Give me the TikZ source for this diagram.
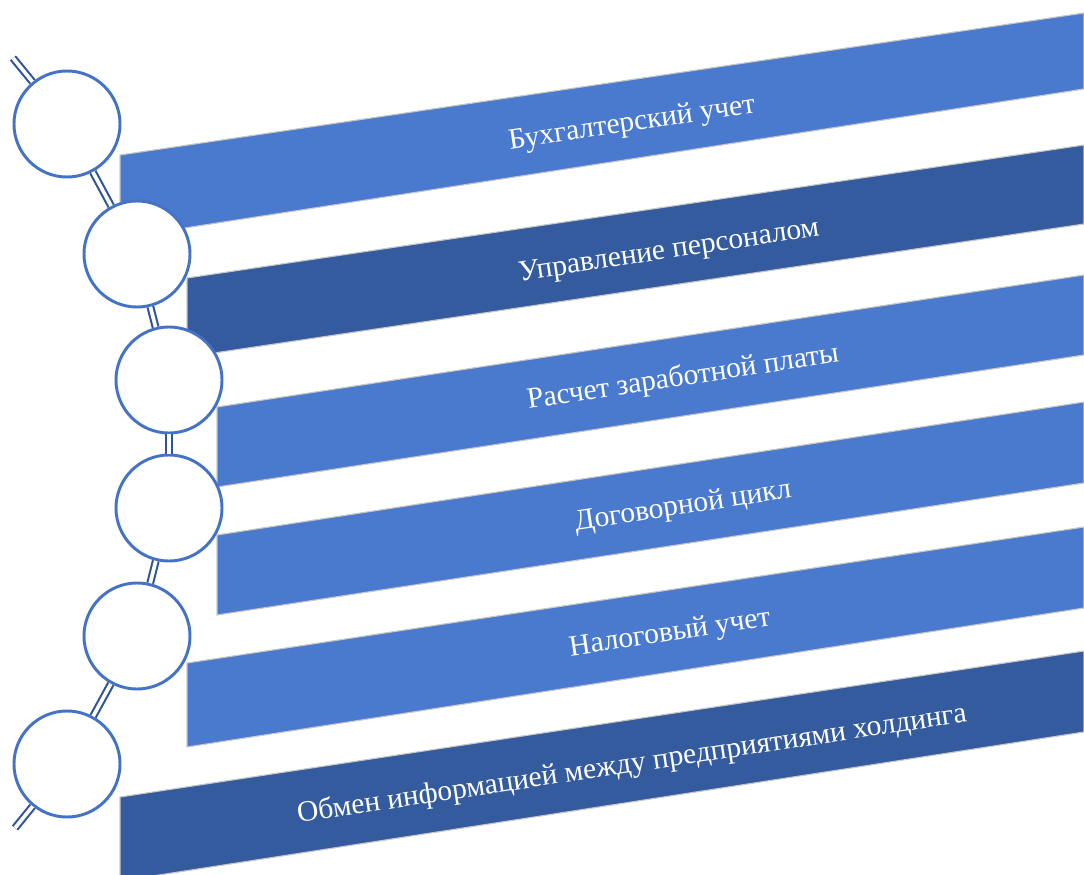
\documentclass[tikz,border=0pt]{standalone}
\usepackage{fontspec}
\setmainfont{Liberation Serif}

\definecolor{bandlight}{RGB}{74,122,205}
\definecolor{banddark}{RGB}{51,91,158}
\definecolor{ringblue}{RGB}{68,114,196}
\definecolor{linkblue}{RGB}{47,85,151}

\begin{document}
\begin{tikzpicture}[x=0.025cm,y=-0.025cm]

\tikzstyle{lightband}=[fill=bandlight,draw=black!22,line width=0.8pt]
\tikzstyle{darkband}=[fill=banddark,draw=black!22,line width=0.8pt]
\tikzstyle{bandtext}=[text=white,font=\fontsize{21}{25}\selectfont,rotate=8.6,inner sep=1pt]
\tikzstyle{ring}=[circle,draw=ringblue,fill=white,line width=2.1pt,minimum size=2.65cm,inner sep=0pt]
\tikzstyle{link}=[draw=linkblue,double=white,line width=1.5pt,double distance=2.6pt]

\useasboundingbox (0,0) rectangle (1084,874);
\clip (0,0) rectangle (1084,874);

% bands
\draw[lightband] (120,155) -- (1084, 13) -- (1084, 89) -- (120,238) -- cycle;
\draw[darkband]  (187,278) -- (1084,145) -- (1084,224) -- (187,357) -- cycle;
\draw[lightband] (217,407) -- (1084,275) -- (1084,355) -- (217,487) -- cycle;
\draw[lightband] (217,535) -- (1084,402) -- (1084,483) -- (217,615) -- cycle;
\draw[lightband] (187,663) -- (1084,527) -- (1084,608) -- (187,747) -- cycle;
\draw[darkband]  (120,797) -- (1084,651) -- (1084,732) -- (120,881) -- cycle;

\node[bandtext] (t1) at (632,124) {Бухгалтерский учет} ;
\node[bandtext] (t2) at (669,252) {Управление персоналом} ;
\node[bandtext] (t3) at (683,378) {Расчет заработной платы} ;
\node[bandtext] (t4) at (683,507) {Договорной цикл} ;
\node[bandtext] (t5) at (670,634) {Налоговый учет} ;
\node[bandtext] (t6) at (632,765) {Обмен информацией между предприятиями холдинга} ;

% circles
\coordinate (top) at (13, 58) ;
\coordinate (bot) at (15,828) ;
\node[ring] (c1) at ( 67,124) {} ;
\node[ring] (c2) at (137,254) {} ;
\node[ring] (c3) at (169,380) {} ;
\node[ring] (c4) at (169,508) {} ;
\node[ring] (c5) at (137,636) {} ;
\node[ring] (c6) at ( 67,764) {} ;

\draw[link] (top) -- (c1) ;
\draw[link] (c1)  -- (c2) ;
\draw[link] (c2)  -- (c3) ;
\draw[link] (c3)  -- (c4) ;
\draw[link] (c4)  -- (c5) ;
\draw[link] (c5)  -- (c6) ;
\draw[link] (c6)  -- (bot) ;

\end{tikzpicture}
\end{document}
